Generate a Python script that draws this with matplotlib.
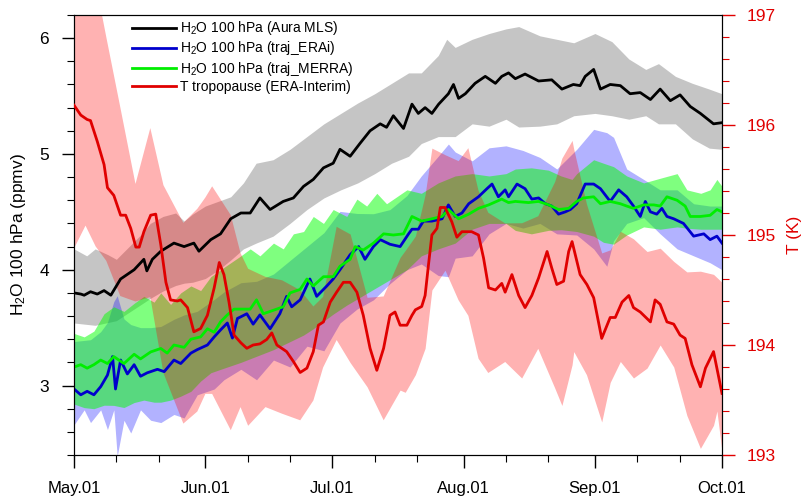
import numpy as np
import matplotlib
matplotlib.use("Agg")
import matplotlib.pyplot as plt
from matplotlib.ticker import MultipleLocator

plt.rcParams['font.family'] = ['Liberation Sans', 'DejaVu Sans']
plt.rcParams['mathtext.fontset'] = 'custom'
plt.rcParams['mathtext.rm'] = 'Liberation Sans'
plt.rcParams['mathtext.default'] = 'rm'

# ---------------- data (day index from May 1) ----------------
month_days = [0, 31, 61, 92, 123, 153]
month_labels = ['May.01', 'Jun.01', 'Jul.01', 'Aug.01', 'Sep.01', 'Oct.01']
minor_days = [10, 20, 41, 51, 71, 81, 102, 112, 133, 143]

# Aura MLS H2O (ppmv)
mls_day = [0, 1.6, 2.4, 3.9, 5.5, 7.1, 8.7, 11.0, 14.2, 16.5, 17.2, 18.5, 20.5, 23.6, 26.0, 28.3,
           29.5, 32.3, 34.6, 37.0, 39.4, 41.6, 43.9, 46.3, 49.4, 51.8, 54.2, 56.5, 58.9, 61.2,
           62.8, 65.2, 67.5, 69.9, 72.3, 73.8, 75.4, 77.8, 79.8, 81.3, 82.9, 84.5, 86.1, 88.4,
           89.6, 90.8, 92.4, 94.7, 97.1, 99.5, 101.0, 102.6, 104.2, 106.5, 109.7, 112.8, 115.2,
           117.9, 119.5, 120.7, 122.7, 124.3, 126.6, 129.0, 131.3, 133.7, 136.1, 138.4, 140.8,
           143.1, 145.5, 147.9, 151.0, 153.0]
mls_val = [3.80, 3.79, 3.78, 3.81, 3.79, 3.82, 3.78, 3.92, 4.00, 4.09, 3.99, 4.09, 4.16, 4.23, 4.20, 4.23,
           4.16, 4.26, 4.31, 4.44, 4.49, 4.49, 4.62, 4.52, 4.59, 4.62, 4.72, 4.78, 4.88, 4.92,
           5.04, 4.98, 5.09, 5.20, 5.26, 5.23, 5.33, 5.22, 5.43, 5.35, 5.40, 5.35, 5.43, 5.52,
           5.60, 5.48, 5.52, 5.61, 5.67, 5.61, 5.67, 5.70, 5.65, 5.69, 5.63, 5.64, 5.56,
           5.60, 5.59, 5.67, 5.73, 5.56, 5.60, 5.59, 5.52, 5.53, 5.47, 5.56, 5.46,
           5.51, 5.41, 5.35, 5.26, 5.27]
mls_up_day = [0, 3, 5, 8, 10, 13, 16, 18, 21, 24, 26, 28, 31, 34, 37, 40, 43, 47, 51, 55, 59, 63, 67,
              71, 75, 79, 82, 86, 88, 90, 94, 98, 102, 105, 110, 114, 118, 123, 127, 131, 135, 138,
              142, 146, 150, 153]
mls_up = [4.18, 4.12, 4.18, 4.13, 4.09, 4.20, 4.31, 4.40, 4.46, 4.49, 4.42, 4.48, 4.55, 4.59, 4.63,
          4.75, 4.92, 4.95, 5.04, 5.15, 5.26, 5.35, 5.44, 5.52, 5.61, 5.70, 5.70, 5.85, 5.99, 5.92,
          5.99, 6.04, 6.08, 6.10, 6.02, 5.99, 5.96, 6.04, 5.97, 5.82, 5.73, 5.78, 5.67, 5.61, 5.56, 5.52]
mls_lo_day = [0, 5, 10, 15, 20, 25, 30, 35, 40, 43, 47, 51, 55, 59, 63, 67, 71, 75, 79, 82, 86, 90,
              94, 98, 102, 106, 110, 114, 118, 123, 127, 131, 135, 138, 142, 146, 150, 153]
mls_lo = [3.54, 3.52, 3.56, 3.68, 3.80, 3.88, 3.90, 4.02, 4.18, 4.23, 4.29, 4.40, 4.52, 4.62, 4.69,
          4.75, 4.83, 4.92, 4.98, 5.09, 5.15, 5.15, 5.26, 5.24, 5.30, 5.21, 5.24, 5.26, 5.33, 5.35,
          5.33, 5.30, 5.33, 5.26, 5.26, 5.13, 5.05, 5.04]

# traj_ERAi H2O (ppmv)
erai_day = [0, 1.6, 3.1, 4.7, 6.3, 7.9, 9.1, 9.8, 11.0, 12.6, 14.2, 15.7, 17.3, 19.7, 21.3, 23.6,
            25.2, 27.6, 29.1, 31.5, 33.1, 34.6, 36.2, 37.4, 38.6, 39.2, 40.8, 42.3, 43.9, 46.3,
            48.6, 50.2, 51.4, 53.4, 55.7, 57.3, 59.7, 61.2, 62.8, 65.2, 67.2, 68.7, 70.7, 72.3,
            74.6, 77.0, 79.0, 79.8, 81.3, 82.5, 84.5, 86.9, 88.4, 90.0, 91.6, 93.2, 95.5, 97.5,
            98.7, 100.2, 101.8, 102.6, 104.6, 106.5, 108.1, 109.7, 111.3, 112.8, 114.4, 116.0,
            117.2, 118.7, 120.7, 122.7, 124.3, 126.6, 128.6, 130.5, 132.1, 133.7, 134.9, 136.1,
            137.6, 138.8, 140.0, 141.6, 143.9, 146.3, 148.7, 150.2, 151.8, 153.0]
erai_val = [2.97, 2.92, 2.95, 2.92, 2.99, 3.09, 3.25, 2.97, 3.22, 3.10, 3.18, 3.08, 3.11, 3.14, 3.12, 3.22,
            3.19, 3.28, 3.31, 3.35, 3.42, 3.48, 3.54, 3.41, 3.58, 3.59, 3.62, 3.53, 3.61, 3.49,
            3.62, 3.77, 3.68, 3.74, 3.92, 3.77, 3.86, 3.92, 4.00, 4.13, 4.20, 4.09, 4.20, 4.26,
            4.22, 4.20, 4.31, 4.35, 4.35, 4.42, 4.42, 4.44, 4.56, 4.46, 4.49, 4.57, 4.63, 4.70,
            4.74, 4.63, 4.69, 4.63, 4.74, 4.70, 4.61, 4.62, 4.57, 4.55, 4.48, 4.50,
            4.52, 4.57, 4.74, 4.74, 4.70, 4.59, 4.69, 4.63, 4.55, 4.46, 4.59, 4.50,
            4.48, 4.53, 4.46, 4.44, 4.40, 4.29, 4.31, 4.26, 4.29, 4.23]
erai_up_day = [0, 5, 8, 10, 12, 15, 20, 25, 30, 35, 40, 45, 50, 55, 60, 64, 68, 72, 76, 80, 82, 86,
               88.5, 92, 95, 98.5, 102, 105, 108, 111, 114, 117.6, 118.7, 121, 124, 126.6, 129,
               130.5, 134.5, 138.4, 142.4, 146.3, 150, 153]
erai_up = [3.38, 3.40, 3.55, 3.80, 3.55, 3.50, 3.50, 3.60, 3.65, 3.80, 3.90, 3.90, 4.05, 4.20, 4.35,
           4.57, 4.45, 4.50, 4.53, 4.70, 4.81, 4.98, 5.09, 4.92, 4.95, 5.07, 5.07, 5.04, 5.01, 4.95,
           4.87, 4.75, 5.04, 5.15, 5.26, 5.15, 5.13, 4.87, 4.78, 4.69, 4.69, 4.57, 4.55, 4.55]
erai_lo_day = [0, 2.4, 3.9, 6.3, 7.9, 9.4, 10.2, 11.8, 13.4, 15.7, 18.1, 20.5, 23.6, 26, 29.1, 33.1,
               35.4, 39.4, 43.1, 47.1, 51, 55, 59, 62.8, 66.8, 70.7, 74.6, 78.6, 82, 86, 88.4, 90,
               94, 98, 102, 106, 110, 114, 118.7, 122.7, 125.8, 127.4, 130.5, 134.5, 138.4, 142.4,
               146.3, 150.2, 153]
erai_lo = [2.66, 2.79, 2.68, 2.79, 2.62, 2.79, 2.39, 2.70, 2.59, 2.79, 2.70, 2.68, 2.75, 2.72, 2.92, 2.97,
           3.05, 3.14, 3.05, 3.22, 3.16, 3.34, 3.30, 3.54, 3.66, 3.74, 3.88, 4.00, 4.05, 3.95, 3.94, 4.10,
           4.12, 4.31, 4.40, 4.36, 4.40, 4.31, 4.30, 4.18, 4.03, 4.25, 4.40, 4.45, 4.31, 4.18,
           4.12, 4.06, 4.00]

# traj_MERRA H2O (ppmv)
merra_day = [0, 1.6, 3.1, 4.7, 6.3, 7.9, 9.4, 11.8, 14.2, 15.7, 18.1, 20.5, 22.0, 23.6, 26.0, 27.6,
             29.9, 31.5, 33.1, 34.6, 36.2, 37.8, 39.2, 41.6, 43.1, 44.7, 47.1, 49.4, 51.0, 53.4,
             55.0, 56.5, 58.9, 61.2, 62.8, 65.2, 66.4, 68.3, 70.7, 73.1, 75.4, 77.8, 79.0, 79.8,
             82.1, 84.5, 86.9, 88.4, 90.8, 93.2, 95.5, 97.9, 101.0, 102.6, 104.2, 107.3, 109.7,
             112.1, 114.4, 116.8, 118.7, 120.3, 122.7, 124.3, 126.6, 129.0, 130.5, 132.1, 134.5,
             136.9, 138.4, 140.0, 142.4, 144.3, 145.5, 147.9, 150.2, 151.8, 153.0]
merra_val = [3.16, 3.18, 3.15, 3.18, 3.22, 3.19, 3.25, 3.19, 3.27, 3.23, 3.29, 3.32, 3.28, 3.35, 3.33, 3.40,
             3.42, 3.49, 3.46, 3.55, 3.61, 3.66, 3.66, 3.66, 3.74, 3.62, 3.65, 3.68, 3.80, 3.83,
             3.92, 3.86, 3.94, 3.94, 4.03, 4.09, 4.20, 4.17, 4.23, 4.31, 4.30, 4.31, 4.40, 4.46,
             4.42, 4.44, 4.46, 4.52, 4.44, 4.48, 4.53, 4.56, 4.61, 4.58, 4.59, 4.58, 4.59,
             4.56, 4.52, 4.53, 4.59, 4.62, 4.63, 4.57, 4.59, 4.57, 4.55, 4.53, 4.56,
             4.56, 4.55, 4.63, 4.60, 4.55, 4.46, 4.46, 4.47, 4.52, 4.50]
merra_up_day = [0, 2.4, 4.7, 7.1, 9.4, 11.8, 14.2, 16.5, 18.9, 20.5, 22.8, 25.2, 27.6, 29.9, 32.3,
                34.6, 37, 39.4, 41.6, 43.9, 47.1, 49.4, 51.8, 54.2, 56.5, 58.9, 61.2, 64.4, 66.8,
                69.1, 71.5, 73.8, 76.2, 78.6, 82, 86, 90, 94, 98, 102, 104.2, 108, 112, 115, 117.6,
                118.7, 122.7, 125, 127.4, 130.5, 134.5, 138.4, 142.4, 144.7, 148, 150.2, 151.8, 153]
merra_up = [3.45, 3.42, 3.47, 3.62, 3.68, 3.64, 3.71, 3.77, 3.72, 3.80, 3.70, 3.80, 3.86, 3.82, 3.94,
            4.00, 4.06, 4.12, 4.18, 4.12, 4.23, 4.18, 4.31, 4.33, 4.46, 4.40, 4.52, 4.46, 4.61,
            4.55, 4.66, 4.57, 4.63, 4.69, 4.66, 4.75, 4.81, 4.83, 4.81, 4.83, 4.87, 4.88, 4.86, 4.81, 4.78,
            4.83, 4.95, 4.92, 4.89, 4.81, 4.75, 4.79, 4.83, 4.69, 4.66, 4.69, 4.78, 4.72]
merra_lo_day = [0, 3.9, 7.9, 11.8, 15.7, 19.7, 23.6, 27.6, 31.5, 35.4, 39.4, 47.1, 55, 62.8, 70.7,
                78.6, 82, 86, 90, 94, 98, 102, 106, 110, 114, 118.7, 122.7, 126.6, 130.5, 134.5,
                138.4, 142.4, 146.3, 150.2, 153]
merra_lo = [2.84, 2.79, 2.84, 2.81, 2.88, 2.85, 2.88, 2.95, 3.10, 3.15, 3.20, 3.31, 3.45, 3.66, 3.83,
            4.00, 4.12, 4.18, 4.23, 4.35, 4.40, 4.40, 4.29, 4.33, 4.35, 4.33, 4.29, 4.20, 4.30, 4.37,
            4.35, 4.37, 4.35, 4.35, 4.35]

# ERA-Interim tropopause temperature (K)
tt_day = [0, 1.6, 3.1, 3.9, 5.5, 7.1, 7.9, 9.4, 11.0, 12.2, 13.4, 14.6, 15.4, 16.5, 18.1, 19.3,
          20.5, 21.7, 22.8, 24.4, 25.2, 26.8, 28.3, 29.9, 31.5, 33.1, 34.3, 35.4, 36.6, 37.8,
          39.4, 40.8, 42.3, 43.9, 45.5, 46.7, 47.9, 50.2, 51.8, 53.4, 55.0, 56.5, 57.7, 58.9,
          60.5, 62.0, 63.6, 65.2, 66.8, 68.3, 69.9, 71.5, 73.1, 74.6, 75.8, 77.0, 78.6, 79.8,
          80.6, 82.1, 82.9, 83.7, 84.5, 85.7, 86.5, 87.6, 89.2, 90.4, 91.6, 93.9, 95.5, 96.7,
          97.9, 99.5, 101.0, 101.8, 103.4, 105.0, 106.5, 108.1, 109.7, 111.7, 112.8, 114.0,
          115.6, 116.8, 117.6, 119.5, 121.1, 122.7, 124.6, 126.6, 127.8, 129.4, 131.0, 132.1,
          133.7, 136.1, 137.2, 138.4, 140.0, 141.6, 143.1, 144.3, 145.9, 147.9, 149.1, 151.0, 153.0]
tt_val = [196.18, 196.09, 196.05, 196.04, 195.85, 195.64, 195.43, 195.36, 195.18, 195.18, 195.06,
          194.89, 194.89, 195.03, 195.18, 195.19, 194.91, 194.57, 194.41, 194.40, 194.41, 194.34,
          194.12, 194.15, 194.27, 194.52, 194.75, 194.64, 194.39, 194.09, 194.02, 193.97, 194.00,
          194.01, 194.05, 194.11, 194.00, 193.94, 193.85, 193.75, 193.79, 193.94, 194.18, 194.21,
          194.39, 194.48, 194.57, 194.57, 194.48, 194.27, 193.97, 193.77, 193.97, 194.27, 194.30,
          194.18, 194.18, 194.27, 194.32, 194.35, 194.45, 194.73, 195.00, 195.06, 195.25, 195.25,
          195.12, 194.98, 195.03, 195.03, 195.00, 194.79, 194.52, 194.50, 194.56, 194.48, 194.64,
          194.45, 194.34, 194.45, 194.61, 194.85, 194.70, 194.55, 194.58, 194.85, 194.94, 194.64,
          194.55, 194.43, 194.06, 194.25, 194.25, 194.39, 194.45, 194.34, 194.30, 194.21, 194.41,
          194.37, 194.21, 194.19, 194.09, 194.06, 193.82, 193.62, 193.79, 193.94, 193.56]
tt_up_day = [0, 6, 8, 11.8, 13.7, 17.7, 19.4, 21.9, 23.6, 27.4, 30.5, 33.8, 36.8, 39.2, 41.6, 45.6,
             49.4, 53.4, 56.5, 58.9, 62, 64.2, 66.8, 70.4, 72.3, 74.6, 77.4, 78.2, 81.7, 84.5, 87.6,
             90, 93.5, 95.8, 99.5, 104, 108, 112, 116.8, 117.2, 119.5, 122.7, 125, 128.2, 130.5,
             132.2, 133.7, 136.9, 140, 142.4, 146.3, 149.4, 153]
tt_up = [197.3, 197.3, 196.64, 196.00, 195.36, 195.98, 195.95, 195.18, 195.06, 195.16, 195.32,
         195.53, 195.20, 194.84, 194.65, 194.62, 194.59, 194.50, 194.35, 194.45, 195.10, 195.14,
         194.80, 194.25, 194.30, 194.78, 194.80, 194.86, 195.05, 195.79, 195.73, 195.64, 195.82,
         195.32, 195.10, 195.12, 195.10, 195.30, 195.90, 195.94, 195.48, 195.06, 194.79, 194.94,
         195.21, 194.95, 194.82, 194.88, 194.88, 194.70, 194.64, 194.70, 194.57]
tt_lo_day = [0, 2.6, 5, 7.5, 10.8, 14.4, 17.9, 21, 25.7, 29, 30.9, 32.5, 36.9, 39.2, 41, 45.1, 49,
             53.3, 56.4, 58.7, 61.9, 65.2, 69.2, 73, 77, 78.2, 80.6, 82.9, 84.5, 87.6, 90.7, 93,
             95.4, 97.7, 101.7, 105.7, 109.5, 113.5, 115.2, 117.6, 118, 121, 124.6, 126.6, 129,
             132.1, 135.3, 138.4, 141.6, 144.7, 147.9, 151, 151.8, 153]
tt_lo = [194.89, 195.09, 194.90, 194.77, 194.45, 194.40, 194.44, 193.75, 193.29, 193.40, 193.56,
         193.56, 193.23, 193.44, 193.27, 193.44, 193.38, 193.32, 193.50, 193.80, 194.05, 193.84,
         193.62, 193.32, 193.59, 193.57, 193.73, 193.97, 194.50, 194.68, 194.41, 194.27, 193.88,
         193.75, 193.85, 193.70, 193.97, 193.61, 193.45, 193.82, 193.94, 193.73, 193.30, 193.66,
         193.85, 193.70, 193.79, 194.00, 193.80, 193.36, 193.06, 193.27, 193.40, 193.03]

legend_labels = [r'H$_2$O 100 hPa (Aura MLS)', r'H$_2$O 100 hPa (traj_ERAi)',
                 r'H$_2$O 100 hPa (traj_MERRA)', 'T tropopause (ERA-Interim)']

# ---------------- plot ----------------
fig = plt.figure(figsize=(8.04, 5.03), dpi=100)
ax = fig.add_axes([74 / 804, 48 / 503, 648 / 804, 440 / 503])
ax2 = ax.twinx()

ax.set_xlim(0, 153)
ax.set_ylim(2.4, 6.2)
ax2.set_ylim(193, 197)

red = '#e00000'
ax.fill_between(mls_up_day, mls_up, np.interp(mls_up_day, mls_lo_day, mls_lo),
                color='gray', alpha=0.45, lw=0, zorder=1)
ax.fill_between(erai_lo_day, np.interp(erai_lo_day, erai_up_day, erai_up), erai_lo,
                color='blue', alpha=0.3, lw=0, zorder=1.1)
ax.fill_between(merra_up_day, merra_up, np.interp(merra_up_day, merra_lo_day, merra_lo),
                color='lime', alpha=0.5, lw=0, zorder=1.2)
ax.fill_between(tt_lo_day, np.interp(tt_lo_day, tt_up_day, tt_up), tt_lo,
                color='red', alpha=0.3, lw=0, zorder=1.3, transform=ax2.transData)

l1, = ax.plot(mls_day, mls_val, color='black', lw=2, zorder=3)
l2, = ax.plot(erai_day, erai_val, color='#0000cc', lw=2, zorder=3)
l3, = ax.plot(merra_day, merra_val, color='#00ee00', lw=2, zorder=3)
l4, = ax2.plot(tt_day, tt_val, color=red, lw=2, zorder=3)

ax.set_xlim(0, 153)
ax.set_ylim(2.4, 6.2)
ax2.set_ylim(193, 197)

ax.set_xticks(month_days)
ax.set_xticklabels(month_labels, fontsize=12)
ax.set_xticks(minor_days, minor=True)
ax.yaxis.set_major_locator(MultipleLocator(1))
ax.yaxis.set_minor_locator(MultipleLocator(0.2))
ax2.yaxis.set_major_locator(MultipleLocator(1))
ax2.yaxis.set_minor_locator(MultipleLocator(0.2))

ax.tick_params(axis='both', which='major', direction='out', length=9, width=1.0, labelsize=12.5, pad=9)
ax.tick_params(axis='both', which='minor', direction='out', length=5, width=0.8)
ax.tick_params(axis='y', right=False)
ax.tick_params(axis='x', top=False, labelsize=12, pad=10)
ax2.tick_params(axis='y', which='major', direction='out', length=9, width=1.0, colors=red,
                labelsize=12.5, pad=9)
ax2.tick_params(axis='y', which='minor', direction='out', length=5, width=0.8, colors=red)
ax2.spines['right'].set_color('black')

ax.set_ylabel(r'H$_2$O 100 hPa (ppmv)', fontsize=12.5, labelpad=8)
ax2.set_ylabel('T (K)', fontsize=12.5, color=red, labelpad=8)

leg = ax.legend([l1, l2, l3, l4], legend_labels, loc='upper left', bbox_to_anchor=(0.089, 0.99),
                frameon=False, fontsize=10, handlelength=3.2, handletextpad=0.25,
                labelspacing=0.15, borderpad=0, borderaxespad=0)

fig.savefig('out.png', dpi=100)
